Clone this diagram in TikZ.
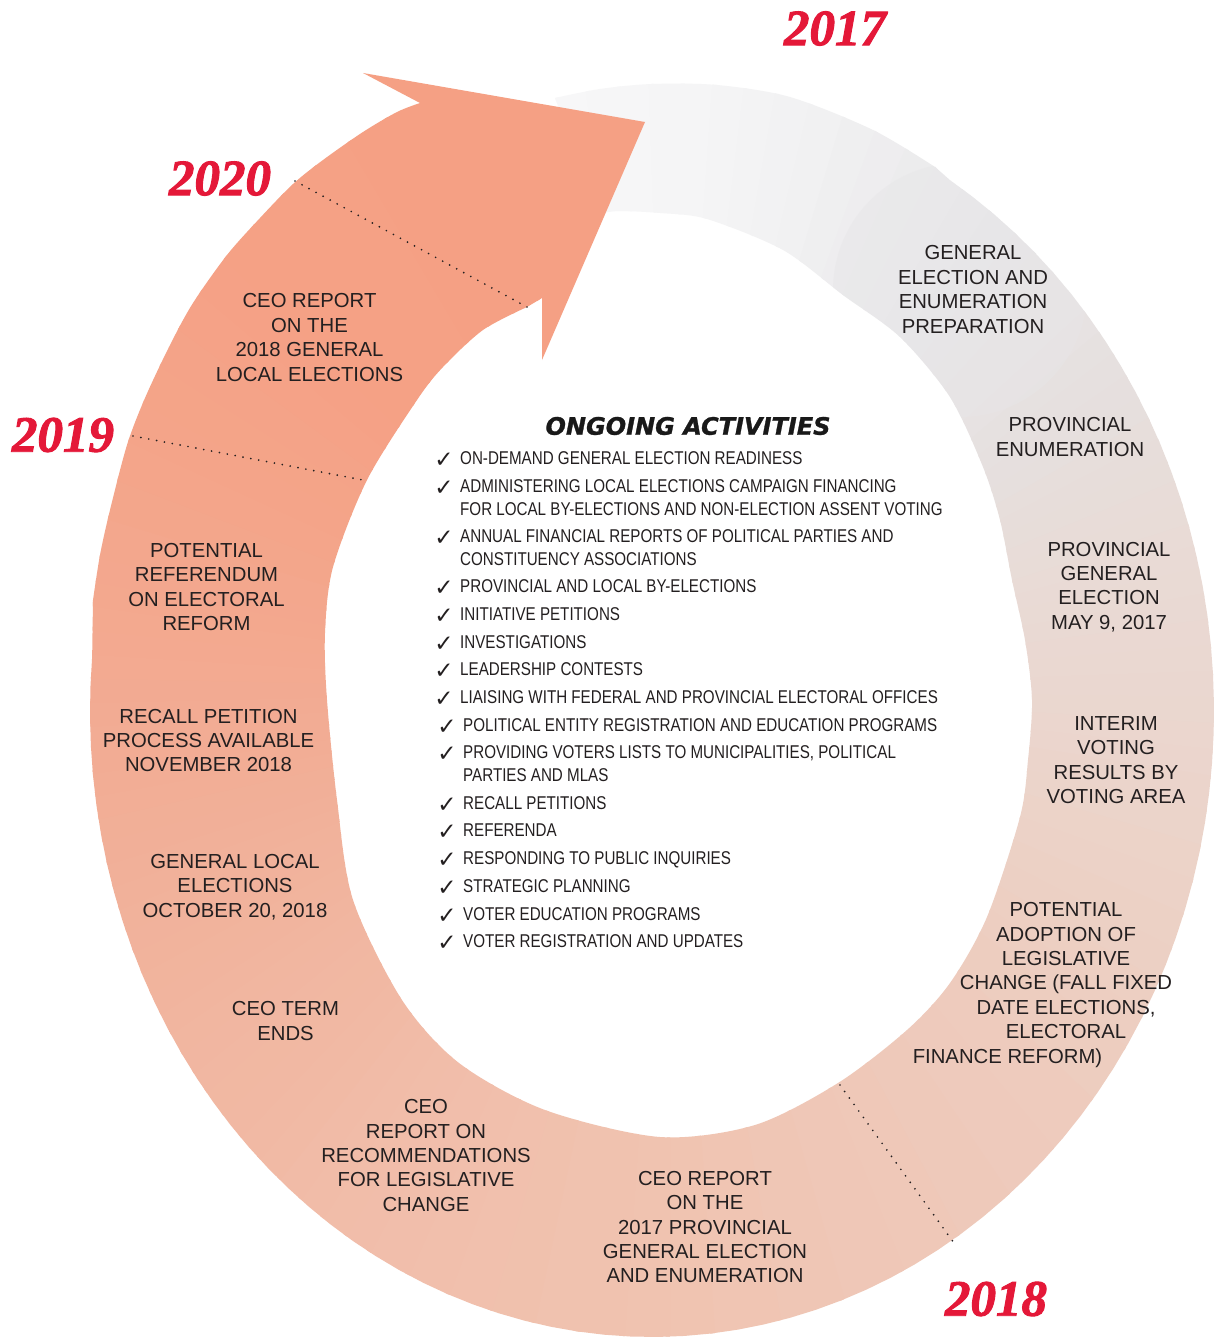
\documentclass[tikz,border=0pt]{standalone}
\usepackage{fontspec}
\setmainfont{Liberation Sans}
\newfontfamily\narrowfont[FakeStretch=0.82]{Liberation Sans}
\newfontfamily\headfont[UprightFont={* Bold Oblique},FakeBold=1.2]{DejaVu Sans}
\newfontfamily\yearfont[UprightFont={* Bold Italic},FakeBold=1.8]{Liberation Serif}
\newfontfamily\symfont{DejaVu Sans}
\definecolor{txtc}{RGB}{35,31,32}
\definecolor{headc}{RGB}{25,25,25}
\definecolor{yearred}{RGB}{228,24,56}
\definecolor{arrowc}{RGB}{245,160,132}
\definecolor{s0}{RGB}{248,248,249}
\definecolor{s1}{RGB}{243,243,244}
\definecolor{s2}{RGB}{231,230,232}
\definecolor{s3}{RGB}{230,223,221}
\definecolor{s4}{RGB}{233,218,212}
\definecolor{s5}{RGB}{235,213,204}
\definecolor{s6}{RGB}{237,205,192}
\definecolor{s7}{RGB}{240,196,178}
\definecolor{s8}{RGB}{241,190,170}
\definecolor{s9}{RGB}{241,183,162}
\definecolor{s10}{RGB}{241,178,155}
\definecolor{s11}{RGB}{242,172,148}
\definecolor{s12}{RGB}{243,167,141}
\definecolor{s13}{RGB}{245,161,133}
\definecolor{s14}{RGB}{245,160,132}
\begin{document}
\begin{tikzpicture}[x=1pt,y=-1pt,
  lbl/.style={align=center, font=\fontsize{20.3}{24.4}\selectfont, text=txtc, inner sep=0pt},
  itm/.style={align=left, anchor=north west, font=\narrowfont\fontsize{18.5}{22.5}\selectfont, text=txtc, inner sep=0pt},
  chk/.style={font=\symfont\fontsize{23}{23}\selectfont, text=txtc, inner sep=0pt},
  year/.style={font=\yearfont\fontsize{51}{56}\selectfont, text=yearred, inner sep=0pt},
  heading/.style={font=\headfont\fontsize{24}{28}\selectfont, text=headc, inner sep=0pt},
  divider/.style={draw=txtc, line width=1.9pt, dash pattern=on 0pt off 8pt, line cap=round}]
\useasboundingbox (0,0) rectangle (1217,1337);
\fill[white] (0,0) rectangle (1217,1337);

% ring body with angular gradient
\begin{scope}
\clip plot[smooth,tension=0.5] coordinates {(555,98) (600,89) (652,84) (717,85) (790,97) (873,130) (935,167)}
  -- plot[domain=-58:185, samples=90, variable=\t] ({652+562*cos(\t)},{711+626*sin(\t)})
  -- plot[smooth,tension=0.5] coordinates {(93,600) (100,555) (110,510) (127,445) (145,398) (170,345) (193,303) (227,255) (260,218) (293,184) (323,160) (363,132) (397,112) (420,103)}
  -- (440,100) -- (560,280) -- (542,298)
  -- plot[smooth,tension=0.5] coordinates {(527,307) (483,330) (443,367) (417,400) (367,480) (333,567) (325,633) (327,700) (337,800) (353,900) (402,1000) (459,1063) (545,1110) (660,1137) (755,1125) (838,1083) (907,1030) (950,983) (987,917) (1020,817) (1028,760) (1032,700) (1025,640) (1012,580) (1000,520) (983,467) (950,397) (900,337) (843,295) (783,250) (707,219) (660,213) (620,211) (603,213)}
  -- cycle;
\foreach \aA/\aB/\cA/\cB in {-104/-80/s0/s1,-80/-53/s1/s2,-53/-32/s2/s3,-32/-13/s3/s4,-13/9/s4/s5,9/38/s5/s6,38/86/s6/s7,86/118/s7/s8,118/139/s8/s9,139/156/s9/s10,156/174/s10/s11,174/193/s11/s12,193/224/s12/s13,224/255/s13/s14}{
  \foreach \i in {0,...,7}{
    \pgfmathsetmacro\ta{\aA+(\aB-\aA)*\i/8}
    \pgfmathsetmacro\tb{\aA+(\aB-\aA)*(\i+1)/8+0.4}
    \pgfmathtruncatemacro\pc{100*(\i+0.5)/8}
    \fill[\cB!\pc!\cA] (670,690) -- ({670+1100*cos(\ta)},{690+1100*sin(\ta)}) -- ({670+1100*cos(\tb)},{690+1100*sin(\tb)}) -- cycle;
  }
}
\fill[s2,opacity=0.45] (960,290) circle[radius=127];
\end{scope}

% arrowhead
\fill[arrowc] (420,103) -- (363,73) -- (645,122) -- (542,360) -- (542,298) -- cycle;

% year dividers
\coordinate (d20a) at (295,181); \coordinate (d20b) at (527,307);
\coordinate (d19a) at (133,436); \coordinate (d19b) at (368,481);
\coordinate (d18a) at (840,1085); \coordinate (d18b) at (954,1243);
\draw[divider] (d20a) -- (d20b);
\draw[divider] (d19a) -- (d19b);
\draw[divider] (d18a) -- (d18b);

% years
\node[year] (y2017) at (835,28.5) {2017};
\node[year] (y2020) at (220,178.5) {2020};
\node[year] (y2019) at (63,435) {2019};
\node[year] (y2018) at (996,1299) {2018};

% ring labels
\node[lbl] (l1) at (973,289.5) {GENERAL\\ELECTION AND\\ENUMERATION\\PREPARATION};
\node[lbl] (l2) at (1070,437) {PROVINCIAL\\ENUMERATION};
\node[lbl] (l3) at (1109,587) {PROVINCIAL\\GENERAL\\ELECTION\\MAY 9, 2017};
\node[lbl] (l4) at (1116,760) {INTERIM\\VOTING\\RESULTS BY\\VOTING AREA};
\node[lbl] (l5) at (1066,985) {POTENTIAL\\ADOPTION OF\\LEGISLATIVE\\CHANGE (FALL FIXED\hspace*{33pt}\\DATE ELECTIONS,\hspace*{33pt}\\ELECTORAL\hspace*{117pt}\\FINANCE REFORM)\hspace*{117pt}};
\node[lbl] (l6) at (705,1227) {CEO REPORT\\ON THE\\2017 PROVINCIAL\\GENERAL ELECTION\\AND ENUMERATION};
\node[lbl] (l7) at (426,1155.5) {CEO\\REPORT ON\\RECOMMENDATIONS\\FOR LEGISLATIVE\\CHANGE};
\node[lbl] (l8) at (285.5,1021) {CEO TERM\\ENDS};
\node[lbl] (l9) at (235,887) {GENERAL LOCAL\\ELECTIONS\\OCTOBER 20, 2018};
\node[lbl] (l10) at (208.5,740.5) {RECALL PETITION\\PROCESS AVAILABLE\\NOVEMBER 2018};
\node[lbl] (l11) at (206.5,587) {POTENTIAL\\REFERENDUM\\ON ELECTORAL\\REFORM};
\node[lbl] (l12) at (309.5,337.5) {CEO REPORT\\ON THE\\2018 GENERAL\\LOCAL ELECTIONS};

% ongoing activities
\node[heading] (head) at (688,426) {ONGOING ACTIVITIES};

\foreach \n/\cx/\tx/\yy/\txt in {
  1/444/460/458/{ON-DEMAND GENERAL ELECTION READINESS},
  2/444/460/486/{ADMINISTERING LOCAL ELECTIONS CAMPAIGN FINANCING\\FOR LOCAL BY-ELECTIONS AND NON-ELECTION ASSENT VOTING},
  3/444/460/536/{ANNUAL FINANCIAL REPORTS OF POLITICAL PARTIES AND\\CONSTITUENCY ASSOCIATIONS},
  4/444/460/586/{PROVINCIAL AND LOCAL BY-ELECTIONS},
  5/444/460/614/{INITIATIVE PETITIONS},
  6/444/460/642/{INVESTIGATIONS},
  7/444/460/669/{LEADERSHIP CONTESTS},
  8/444/460/697/{LIAISING WITH FEDERAL AND PROVINCIAL ELECTORAL OFFICES},
  9/447/463/725/{POLITICAL ENTITY REGISTRATION AND EDUCATION PROGRAMS},
  10/447/463/752/{PROVIDING VOTERS LISTS TO MUNICIPALITIES, POLITICAL\\PARTIES AND MLAS},
  11/447/463/803/{RECALL PETITIONS},
  12/447/463/830/{REFERENDA},
  13/447/463/858/{RESPONDING TO PUBLIC INQUIRIES},
  14/447/463/886/{STRATEGIC PLANNING},
  15/447/463/914/{VOTER EDUCATION PROGRAMS},
  16/447/463/941/{VOTER REGISTRATION AND UPDATES}}{
  \node[chk] (chk\n) at (\cx,\yy+2) {✓};
  \node[itm] (item\n) at (\tx,\yy-6.6) {\txt};
}
\end{tikzpicture}
\end{document}
